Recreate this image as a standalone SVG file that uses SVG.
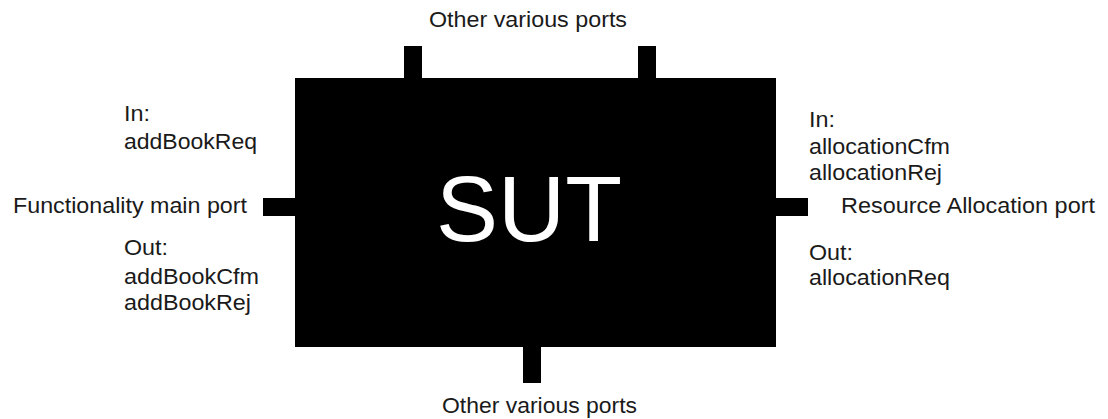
<svg xmlns="http://www.w3.org/2000/svg" width="1108" height="419" viewBox="0 0 1108 419">
  <style>
    .blk { fill: #000; }
    .lbl { font-family: "Liberation Sans", Arial, sans-serif; font-size: 21.5px; fill: #1a1a1a; }
    .big { font-family: "Liberation Sans", Arial, sans-serif; font-size: 93px; fill: #fff; }
  </style>
  <rect width="1108" height="419" fill="#fff"/>

  <!-- system under test with its ports -->
  <g id="sut">
    <rect class="blk" x="295" y="78" width="481" height="269"/>
    <text class="big" x="436" y="241" textLength="186" lengthAdjust="spacingAndGlyphs">SUT</text>
  </g>

  <g id="connectors">
    <rect id="port-top-1" class="blk" x="404" y="46" width="18" height="32"/>
    <rect id="port-top-2" class="blk" x="638" y="46" width="18" height="32"/>
    <rect id="port-left" class="blk" x="263" y="198" width="32" height="18"/>
    <rect id="port-right" class="blk" x="776" y="198" width="32" height="18"/>
    <rect id="port-bottom" class="blk" x="523" y="347" width="18" height="36"/>
  </g>

  <g id="label-top">
    <text class="lbl" x="429" y="27" textLength="198" lengthAdjust="spacingAndGlyphs">Other various ports</text>
  </g>
  <g id="label-bottom">
    <text class="lbl" x="442" y="413" textLength="195" lengthAdjust="spacingAndGlyphs">Other various ports</text>
  </g>

  <g id="label-left">
    <text class="lbl" x="124" y="121" textLength="26" lengthAdjust="spacingAndGlyphs">In:</text>
    <text class="lbl" x="124" y="149" textLength="133" lengthAdjust="spacingAndGlyphs">addBookReq</text>
    <text class="lbl" x="13" y="213" textLength="234" lengthAdjust="spacingAndGlyphs">Functionality main port</text>
    <text class="lbl" x="124" y="255" textLength="44" lengthAdjust="spacingAndGlyphs">Out:</text>
    <text class="lbl" x="124" y="284" textLength="135" lengthAdjust="spacingAndGlyphs">addBookCfm</text>
    <text class="lbl" x="124" y="310" textLength="127" lengthAdjust="spacingAndGlyphs">addBookRej</text>
  </g>

  <g id="label-right">
    <text class="lbl" x="809" y="127" textLength="26" lengthAdjust="spacingAndGlyphs">In:</text>
    <text class="lbl" x="809" y="154" textLength="141" lengthAdjust="spacingAndGlyphs">allocationCfm</text>
    <text class="lbl" x="809" y="180" textLength="133" lengthAdjust="spacingAndGlyphs">allocationRej</text>
    <text class="lbl" x="841" y="213" textLength="254" lengthAdjust="spacingAndGlyphs">Resource Allocation port</text>
    <text class="lbl" x="809" y="260" textLength="44" lengthAdjust="spacingAndGlyphs">Out:</text>
    <text class="lbl" x="809" y="285" textLength="141" lengthAdjust="spacingAndGlyphs">allocationReq</text>
  </g>
</svg>
